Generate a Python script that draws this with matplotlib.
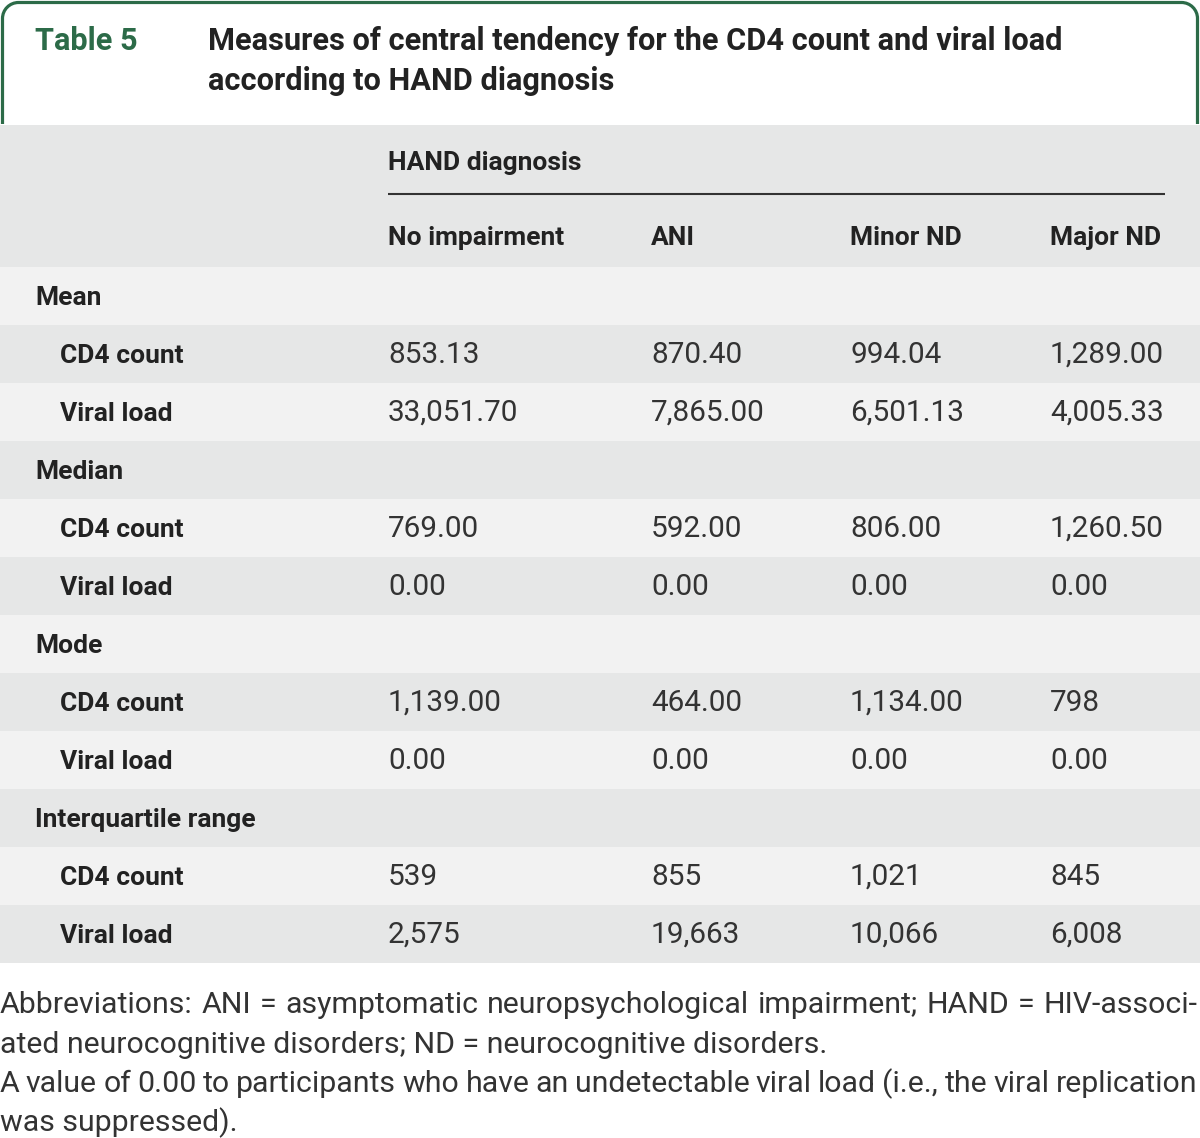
import matplotlib
matplotlib.use('Agg')
import matplotlib.pyplot as plt
from matplotlib.path import Path
from matplotlib.patches import PathPatch, Rectangle

# ---------------- data ----------------
table_label = "Table 5"
title_lines = ["Measures of central tendency for the CD4 count and viral load",
               "according to HAND diagnosis"]
spanner = "HAND diagnosis"
columns = ["No impairment", "ANI", "Minor ND", "Major ND"]
stats = ["Mean", "Median", "Mode", "Interquartile range"]
measures = ["CD4 count", "Viral load"]
cd4_values = [
    ["853.13", "870.40", "994.04", "1,289.00"],
    ["769.00", "592.00", "806.00", "1,260.50"],
    ["1,139.00", "464.00", "1,134.00", "798"],
    ["539", "855", "1,021", "845"],
]
viral_values = [
    ["33,051.70", "7,865.00", "6,501.13", "4,005.33"],
    ["0.00", "0.00", "0.00", "0.00"],
    ["0.00", "0.00", "0.00", "0.00"],
    ["2,575", "19,663", "10,066", "6,008"],
]
footnote_lines = [
    ("Abbreviations: ANI = asymptomatic neuropsychological impairment; HAND = HIV-associ-", True),
    ("ated neurocognitive disorders; ND = neurocognitive disorders.", False),
    ("A value of 0.00 to participants who have an undetectable viral load (i.e., the viral replication", True),
    ("was suppressed).", False),
]

# ---------------- layout ----------------
W, H = 1200, 1138
fig = plt.figure(figsize=(W / 100, H / 100), dpi=100)
ax = fig.add_axes([0, 0, 1, 1])
ax.set_xlim(0, W)
ax.set_ylim(H, 0)
ax.axis('off')
renderer = fig.canvas.get_renderer()

GREEN = '#2c6b48'
DARK = '#e6e7e7'
LIGHT = '#f2f2f2'
TXT = '#222222'
VAL = '#333333'
FONT = ['Roboto', 'DejaVu Sans']
FOOT_FONT = ['Roboto', 'DejaVu Sans']


def width_px(s, size, weight='normal', family=FONT):
    t = ax.text(0, 0, s, fontsize=size, fontweight=weight, family=family)
    w = t.get_window_extent(renderer).width
    t.remove()
    return w


def fit(s, target, weight='normal', family=FONT):
    return 10 * target / width_px(s, 10, weight, family)


title_fs = fit(title_lines[0], 858, 'bold')
label_fs = fit("No impairment", 177, 'bold')
value_fs = fit("33,051.70", 130, 'normal')
foot_fs = fit(footnote_lines[1][0], 829, 'normal', FOOT_FONT)

# green rounded frame (open at bottom)
r = 16
x0, x1, ytop, ybot = 2.5, 1197.5, 2.5, 124
k = 0.5523 * r
verts = [(x0, ybot), (x0, ytop + r),
         (x0, ytop + r - k), (x0 + r - k, ytop), (x0 + r, ytop),
         (x1 - r, ytop),
         (x1 - r + k, ytop), (x1, ytop + r - k), (x1, ytop + r),
         (x1, ybot)]
codes = [Path.MOVETO, Path.LINETO,
         Path.CURVE4, Path.CURVE4, Path.CURVE4,
         Path.LINETO,
         Path.CURVE4, Path.CURVE4, Path.CURVE4,
         Path.LINETO]
ax.add_patch(PathPatch(Path(verts, codes), fill=False, edgecolor=GREEN, lw=2.3,
                       capstyle='butt'))

# title
ax.text(35, 50, table_label, fontsize=title_fs, fontweight='bold', color=GREEN,
        family=FONT, va='baseline')
for i, line in enumerate(title_lines):
    ax.text(208, 50 + 40 * i, line, fontsize=title_fs, fontweight='bold', color=TXT,
            family=FONT, va='baseline')

# header background
ax.add_patch(Rectangle((0, 125), W, 142, facecolor=DARK, edgecolor='none'))
col_x = [388, 651, 850, 1050]
ax.text(col_x[0], 170, spanner, fontsize=label_fs, fontweight='bold', color=TXT,
        family=FONT, va='baseline')
ax.plot([388, 1165], [194, 194], color='#333333', lw=1.5, solid_capstyle='butt')
for cx, c in zip(col_x, columns):
    ax.text(cx, 245, c, fontsize=label_fs, fontweight='bold', color=TXT,
            family=FONT, va='baseline')

# body rows
row_top = 267
row_h = 58
row = 0
for si, st in enumerate(stats):
    rows = [(st, None, 35)] + [(m, vals, 60) for m, vals in
                                zip(measures, [cd4_values[si], viral_values[si]])]
    for label, vals, indent in rows:
        y0 = row_top + row * row_h
        ax.add_patch(Rectangle((0, y0), W, row_h, facecolor=LIGHT if row % 2 == 0 else DARK,
                               edgecolor='none'))
        base = y0 + row_h / 2 + 9
        ax.text(indent, base, label, fontsize=label_fs, fontweight='bold', color=TXT,
                family=FONT, va='baseline')
        if vals is not None:
            for cx, v in zip(col_x, vals):
                ax.text(cx, base, v, fontsize=value_fs, color=VAL, family=FONT,
                        va='baseline')
        row += 1

# footnotes
foot_base = [1013, 1053, 1092, 1131]
for (line, justify), yb in zip(footnote_lines, foot_base):
    if not justify:
        ax.text(0, yb, line, fontsize=foot_fs, color=VAL, family=FOOT_FONT, va='baseline')
        continue
    words = line.split(' ')
    widths = [width_px(w_, foot_fs, 'normal', FOOT_FONT) for w_ in words]
    gap = (1197 - sum(widths)) / (len(words) - 1)
    x = 0
    for w_, wd in zip(words, widths):
        ax.text(x, yb, w_, fontsize=foot_fs, color=VAL, family=FOOT_FONT, va='baseline')
        x += wd + gap

fig.savefig('out.png', dpi=100)
